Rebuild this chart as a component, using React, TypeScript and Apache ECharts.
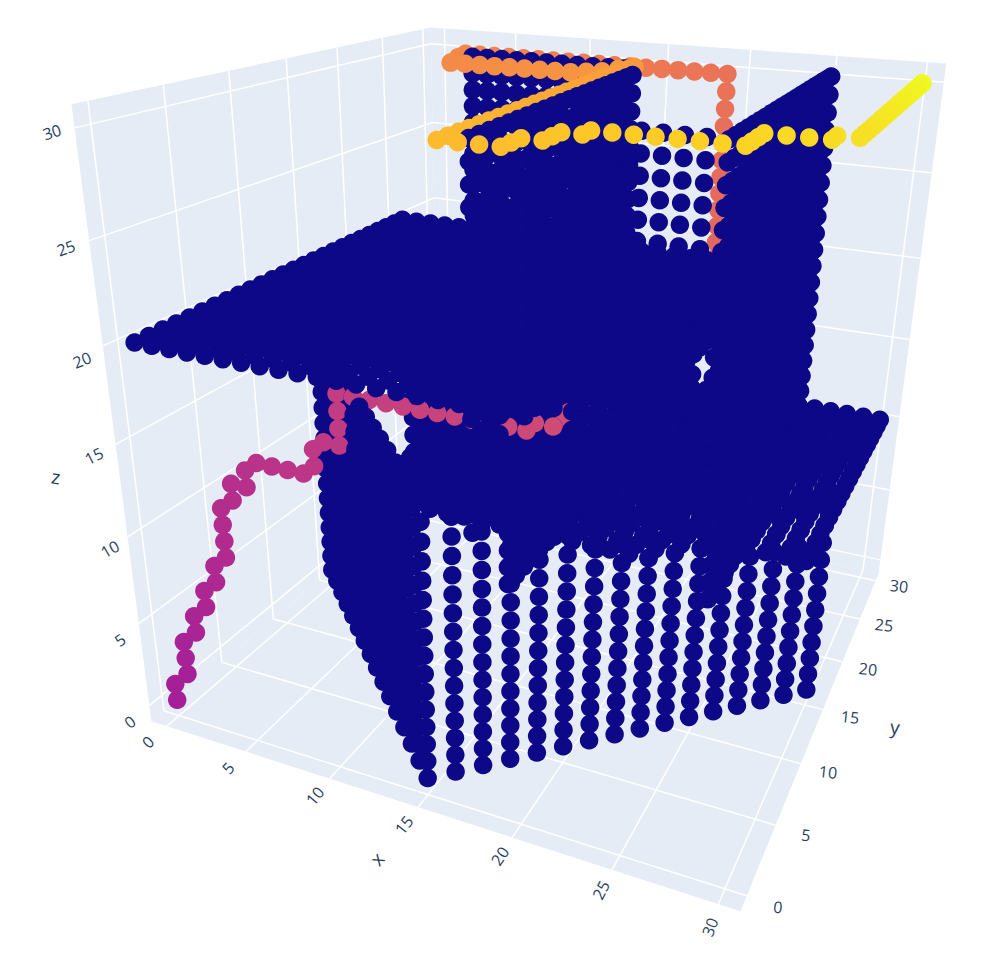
import React, { useEffect, useRef } from "react";
import * as echarts from "echarts";

// ---- value lists -------------------------------------------------------
const axisRange = [-1, 31];
const tickValues = [0, 5, 10, 15, 20, 25, 30];
const tickLabels = ["0", "5", "10", "15", "20", "25", "30"];
const xLabelSpots = [[148,742],[228,768],[315,796],[404,825],[500,856],[601,890],[710,927]];
const yLabelSpots = [[778,907],[806,835],[828,772],[850,717],[868,669],[884,625],[899,586]];
const zLabelSpots = [[130,722],[120,640],[110,549],[94,456],[82,360],[66,248],[52,132]];
const xLabelTurn = [45,48,50,52,56,62,68];
const yLabelTurn = [-6,-6,-6,-6,-6,-6,-6];
const zLabelTurn = [38,35,30,27,22,20,18];

const camera = [
  [14.393, 14.458, -2.9117, 177.21],
  [1.0178, -1.6095, -19.858, 699.84],
  [-0.0053914, 0.012399, -0.0058126, 1],
];

// obstacle blocks [xFrom, xTo, yFrom, yTo, zFrom, zTo]
const slabHigh = [[0,20,0,25,20,20],[21,21,3,25,20,20],[22,22,4,25,20,20],[23,23,5,25,20,20],[24,24,6,25,20,20]];
const slabLowNear = [[7,23,8,30,10,10]];
const slabLowFar = [[24,30,11,30,10,10]];
const wallY10 = [[15,23,10,10,10,30],[24,24,10,10,10,16],[24,24,10,10,19,30],[9,14,10,12,10,19]];
const wallY11 = [[18,21,11,11,13,19]];
const wallX15 = [[15,15,5,25,11,30],[15,15,9,25,6,10]];
const wallX20 = [[20,20,10,22,12,19]];
const wallX25 = [[25,25,10,30,10,30],[25,25,12,30,6,9]];
const wallY29 = [[3,13,29,29,9.7,29.7]];
const diagonalLeft = [[15,0],[14,1],[13,2],[12,3],[11,4],[10,5],[9,6],[8,7],[7,8],[6,9],[5,10],[4,11],[3,12],[2,13],[1,14],[0,15]];
const diagonalRight = [[16,1],[17,2],[18,3],[19,4],[20,5],[21,6],[22,7],[23,8],[24,9],[25,10],[26,11],[27,12],[28,13],[29,14],[30,15]];
const diagonalHeights = [0,1,2,3,4,5,6,7,8,9,10,11,12,13,14,15];

// the route, in walking order
const route: number[][] = [
[0,0,0],[0,0,1],[0,1,1],[0,1,2],[0,1,3],[0,2,3],[0,2,4],[0,3,4],[0,3,5],[0,4,5],[0,4,6],[0,5,6],[0,5,7],[0,5,8],[0,5,9],[0,6,9],[0,6,10],[1,6,10],[1,6,11],[1,7,11],[2,7,11],[3,7,11],[4,7,11],[4,8,11],[4,8,12],[4,9,12],[5,9,12],[5,9,13],[5,9,14],[5,9,15],
[6,9,15],[7,9,15],[8,9,15],[9,9,15],[10,9,15],[11,9,15],[12,9,15],[13,9,15],[14,9,15],[15,9,15],[16,9,15],[16,10,15],[17,10,15],[17,11,15],[17,12,15],[18,12,15],[18,13,15],[18,14,15],[18,15,15],[18,16,15],[18,17,15],[18,18,15],[19,18,15],[19,19,15],[19,20,15],[19,21,15],[19,22,15],[19,23,15],[19,24,15],[19,25,15],[19,26,15],[19,27,15],[19,28,15],[19,29,15],[19,30,15],
[19,30,15.7],[19,30,16.7],[19,30,17.7],[19,30,18.7],[19,30,19.7],[19,30,20.7],[19,30,21.7],[19,30,22.7],[19,30,23.7],[19,30,24.7],[19,30,25.7],[19,30,26.7],[19,30,27.7],[19,30,28.7],[19,30,29.7],
[18,30,29.7],[17,30,29.7],[16,30,29.7],[15,30,29.7],[14,30,29.7],[13,30,29.7],[12,30,29.7],[11,30,29.7],[10,30,29.7],[9,30,29.7],[8,30,29.7],[7,30,29.7],[6,30,29.7],[5,30,29.7],[4,30,29.7],[3,30,29.7],[2,30,29.7],[2,29,29.6],
[2,28,29.4],[3,28,29.4],[4,28,29.4],[5,28,29.4],[6,28,29.4],[7,28,29.4],[8,28,29.4],[9,28,29.4],[10,28,29.4],[11,28,29.5],[12,28,29.6],[13,28,29.8],[14,28,30],
[14,27,30],[14,26,30],[14,25,30],[14,24,30],[14,23,30],[14,22,30],[14,21,30],[14,20,30],[14,19,30],[14,18,30],[14,17,30],[14,16,30],[14,15,30],[14,14,30],[14,13,30],[14,12,30],[14,11,30],[14,10,30],[14,9,30],[14,8,30],[14,7,30],[14,6,30],[14,5,30],[14,4,30],
[15,4,30],[16,4,30],[17,4,30],[17,5,30],[17,6,30],[18,6,30],[18,7,30],[18,8,30],[19,8,30],[19,9,30],[20,9,30],[21,9,30],[22,9,30],[23,9,30],[24,9,30],[25,9,30],[26,9,30],[26,10,30],[26,11,30],[26,12,30],[27,12,30],[28,12,30],[29,12,30],[29,13,30],[30,13,30],
[30,14,30],[30,15,30],[30,16,30],[30,17,30],[30,18,30],[30,19,30],[30,20,30],[30,21,30],[30,22,30],[30,23,30],[30,24,30],[30,25,30],[30,26,30],[30,27,30],[30,28,30],[30,29,30],[30,30,30],
];
const routeColourFrom = 0.36;
const plasma = ["#0d0887","#46039f","#7201a8","#9c179e","#bd3786","#d8576b","#ed7953","#fb9f3a","#fdca26","#f0f921"];

// ---- projection ---------------------------------------------------------
function depth(x: number, y: number, z: number) {
  const c = camera[2];
  return c[0] * x + c[1] * y + c[2] * z + c[3];
}
function project(x: number, y: number, z: number) {
  const w = depth(x, y, z);
  const a = camera[0], b = camera[1];
  return [(a[0]*x + a[1]*y + a[2]*z + a[3]) / w, (b[0]*x + b[1]*y + b[2]*z + b[3]) / w];
}

function buildPoints() {
  const pts: number[][] = [];
  const push = (x: number, y: number, z: number, v: number) => {
    const p = project(x, y, z);
    pts.push([p[0], p[1], v, depth(x, y, z), x, y, z]);
  };
  const blocks = [...slabHigh, ...slabLowNear, ...slabLowFar, ...wallY10, ...wallY11, ...wallX15, ...wallX20, ...wallX25, ...wallY29];
  for (const b of blocks)
    for (let x = b[0]; x <= b[1]; x++)
      for (let y = b[2]; y <= b[3]; y++)
        for (let z = b[4]; z <= b[5]; z++) push(x, y, z, 0);
  for (const c of [...diagonalLeft, ...diagonalRight])
    for (const z of diagonalHeights) push(c[0], c[1], z, 0);
  route.forEach((r, i) =>
    push(r[0], r[1], r[2], routeColourFrom + ((1 - routeColourFrom) * i) / (route.length - 1))
  );
  pts.sort((a, b) => b[3] - a[3]);
  return pts;
}

function buildBox() {
  const [lo, hi] = axisRange;
  const out: any[] = [];
  const pane = (a: number[][]) =>
    out.push({ type: "polygon", silent: true, shape: { points: a.map((p) => project(p[0], p[1], p[2])) }, style: { fill: "#E5ECF6" } });
  pane([[lo,lo,lo],[hi,lo,lo],[hi,hi,lo],[lo,hi,lo]]);
  pane([[lo,lo,lo],[lo,hi,lo],[lo,hi,hi],[lo,lo,hi]]);
  pane([[lo,hi,lo],[hi,hi,lo],[hi,hi,hi],[lo,hi,hi]]);
  const seg = (p: number[], q: number[]) => {
    const a = project(p[0], p[1], p[2]), b = project(q[0], q[1], q[2]);
    out.push({ type: "line", silent: true, shape: { x1: a[0], y1: a[1], x2: b[0], y2: b[1] }, style: { stroke: "#ffffff", lineWidth: 1.5 } });
  };
  for (const t of tickValues) {
    seg([t,lo,lo],[t,hi,lo]); seg([lo,t,lo],[hi,t,lo]);
    seg([lo,t,lo],[lo,t,hi]); seg([lo,lo,t],[lo,hi,t]);
    seg([t,hi,lo],[t,hi,hi]); seg([lo,hi,t],[hi,hi,t]);
  }
  const label = (text: string, spot: number[], deg: number, size: number) =>
    out.push({ type: "text", silent: true, x: spot[0], y: spot[1], rotation: (deg * Math.PI) / 180,
      style: { text, fontSize: size, fontFamily: "'Open Sans', sans-serif", fill: "#2a3f5f", align: "center", verticalAlign: "middle" } });
  tickLabels.forEach((t, i) => {
    label(t, xLabelSpots[i], xLabelTurn[i], 16);
    label(t, yLabelSpots[i], yLabelTurn[i], 16);
    label(t, zLabelSpots[i], zLabelTurn[i], 16);
  });
  label("x", [377, 859], 50, 19);
  label("y", [895, 727], -6, 19);
  label("z", [56, 477], -8, 19);
  return out;
}

export default function App() {
  const ref = useRef<HTMLDivElement>(null);
  useEffect(() => {
    const chart = echarts.init(ref.current!, undefined, { renderer: "svg" });
    chart.setOption({
      animation: false,
      grid: { left: 0, right: 0, top: 0, bottom: 0 },
      xAxis: { type: "value", min: 0, max: 981, show: false },
      yAxis: { type: "value", min: 0, max: 961, inverse: true, show: false },
      visualMap: { show: false, type: "continuous", dimension: 2, min: 0, max: 1, seriesIndex: 0, inRange: { color: plasma } },
      graphic: { elements: buildBox() },
      series: [{
        type: "scatter", data: buildPoints(), encode: { x: 0, y: 1 }, symbolSize: 18.5, silent: true,
        progressive: 0, large: false, clip: false, itemStyle: { opacity: 1 },
      }],
    });
    return () => chart.dispose();
  }, []);
  return <div ref={ref} style={{ position: "absolute", left: 0, top: 0, width: 981, height: 961 }} />;
}
